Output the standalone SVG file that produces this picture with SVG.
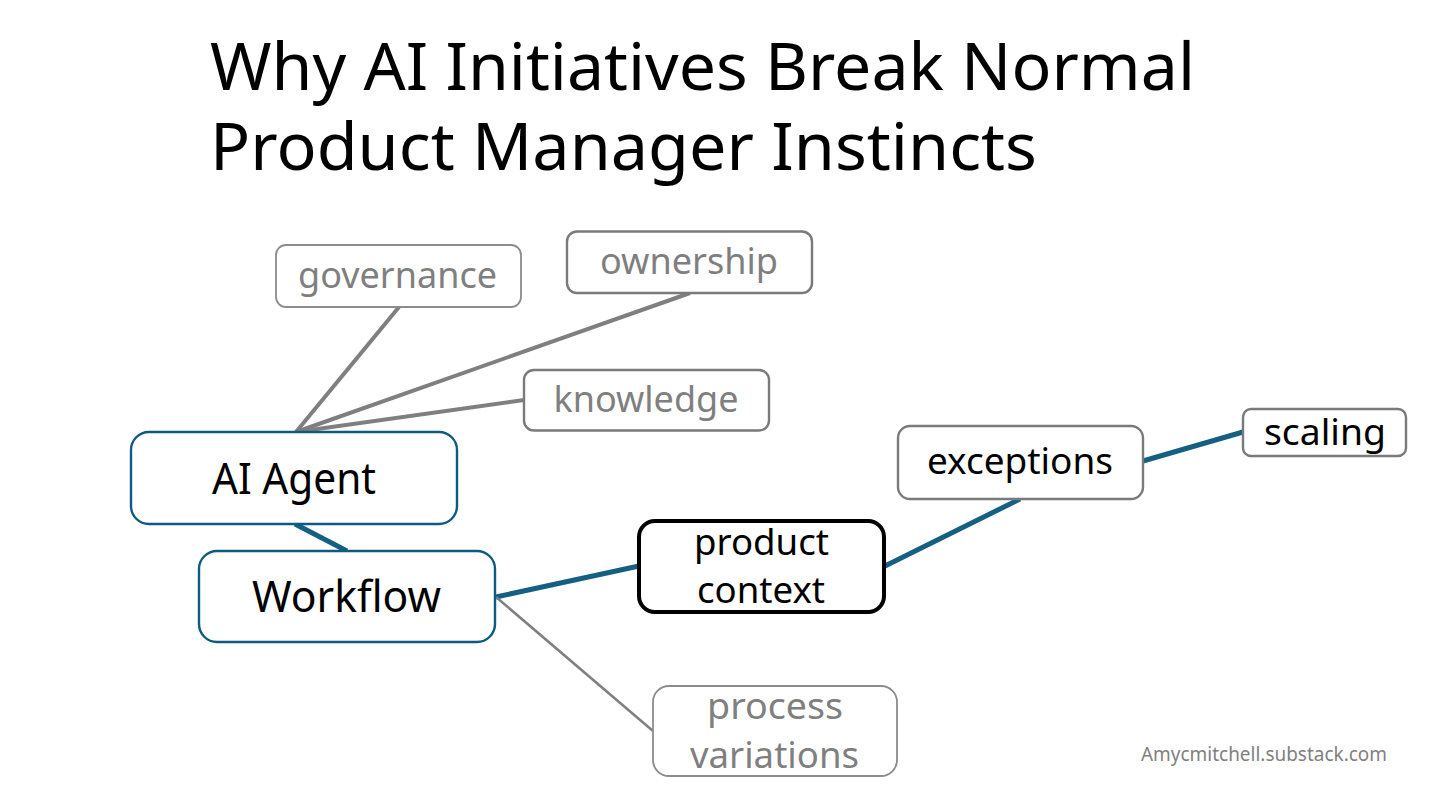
<svg xmlns="http://www.w3.org/2000/svg" width="1456" height="788" viewBox="0 0 1456 788">
<style>
text{font-family:"Noto Sans","Open Sans","Liberation Sans",sans-serif;text-anchor:middle}
.t{font-size:66px;fill:#000;text-anchor:start}
.g{font-size:36px;fill:#7f7f7f}
.k{font-size:36.5px;fill:#000}
.b{font-size:43px;fill:#000}
.box{fill:#fff}
.gb{stroke:#8c8c8c;stroke-width:1.8}
.tb{stroke:#0f5a80;stroke-width:2.4}
.kb{stroke:#7a7a7a;stroke-width:2.4}
.c{fill:none}
.cg{stroke:#7f7f7f;stroke-width:4}
.cb{stroke:#156082;stroke-width:5}
</style>
<rect width="1456" height="788" fill="#fff"/>
<g id="title"><text class="t" x="210" y="90" textLength="985" lengthAdjust="spacingAndGlyphs">Why AI Initiatives Break Normal</text><text class="t" x="210" y="170" textLength="827" lengthAdjust="spacingAndGlyphs">Product Manager Instincts</text></g>
<g id="connectors" class="c">
<line class="cg" x1="296" y1="432" x2="399" y2="307"/>
<line class="cg" x1="296" y1="432" x2="690" y2="293"/>
<line class="cg" x1="296" y1="432" x2="524" y2="400"/>
<line class="cb" x1="295" y1="524" x2="347" y2="551"/>
<line class="cb" x1="496" y1="597" x2="639" y2="566"/>
<line class="cb" x1="885" y1="566" x2="1020" y2="499"/>
<line class="cb" x1="1143" y1="461" x2="1243" y2="432"/>
<line class="cg" style="stroke-width:2.5" x1="496" y1="597" x2="653" y2="731"/>
</g>
<g id="governance"><rect class="box gb" x="276" y="245" width="245" height="62" rx="10"/><text class="g" x="397.500" y="288" textLength="199" lengthAdjust="spacingAndGlyphs">governance</text></g>
<g id="ownership"><rect class="box kb" x="567" y="231.500" width="245" height="61.500" rx="10"/><text class="g" x="689" y="274" textLength="178" lengthAdjust="spacingAndGlyphs">ownership</text></g>
<g id="knowledge"><rect class="box kb" x="524" y="370" width="245" height="60.500" rx="10"/><text class="g" x="646" y="412" textLength="185" lengthAdjust="spacingAndGlyphs">knowledge</text></g>
<g id="ai-agent"><rect class="box tb" x="131" y="432" width="326" height="92" rx="18"/><text class="b" x="294" y="494" textLength="164" lengthAdjust="spacingAndGlyphs">AI Agent</text></g>
<g id="workflow"><rect class="box tb" x="199" y="551" width="296" height="91" rx="18"/><text class="b" x="346.500" y="612" textLength="189" lengthAdjust="spacingAndGlyphs">Workflow</text></g>
<g id="product-context"><rect class="box" stroke="#000" stroke-width="4" x="639" y="521" width="245" height="91" rx="16"/><text class="k" x="761.500" y="555" textLength="135" lengthAdjust="spacingAndGlyphs">product</text><text class="k" x="761" y="603" textLength="128" lengthAdjust="spacingAndGlyphs">context</text></g>
<g id="exceptions"><rect class="box kb" x="898" y="426" width="245" height="73" rx="12"/><text class="k" x="1020" y="474" textLength="186" lengthAdjust="spacingAndGlyphs">exceptions</text></g>
<g id="scaling"><rect class="box kb" x="1243" y="409" width="163" height="47" rx="8"/><text class="k" x="1325" y="445" textLength="122" lengthAdjust="spacingAndGlyphs">scaling</text></g>
<g id="process-variations"><rect class="box gb" x="653" y="686" width="244" height="90" rx="16"/><text class="g" x="775" y="719" textLength="136" lengthAdjust="spacingAndGlyphs">process</text><text class="g" x="774.500" y="768" textLength="169" lengthAdjust="spacingAndGlyphs">variations</text></g>
<g id="credit"><text x="1264" y="761" style="font-size:19px;fill:#7f7f7f" textLength="246" lengthAdjust="spacingAndGlyphs">Amycmitchell.substack.com</text></g>
</svg>
